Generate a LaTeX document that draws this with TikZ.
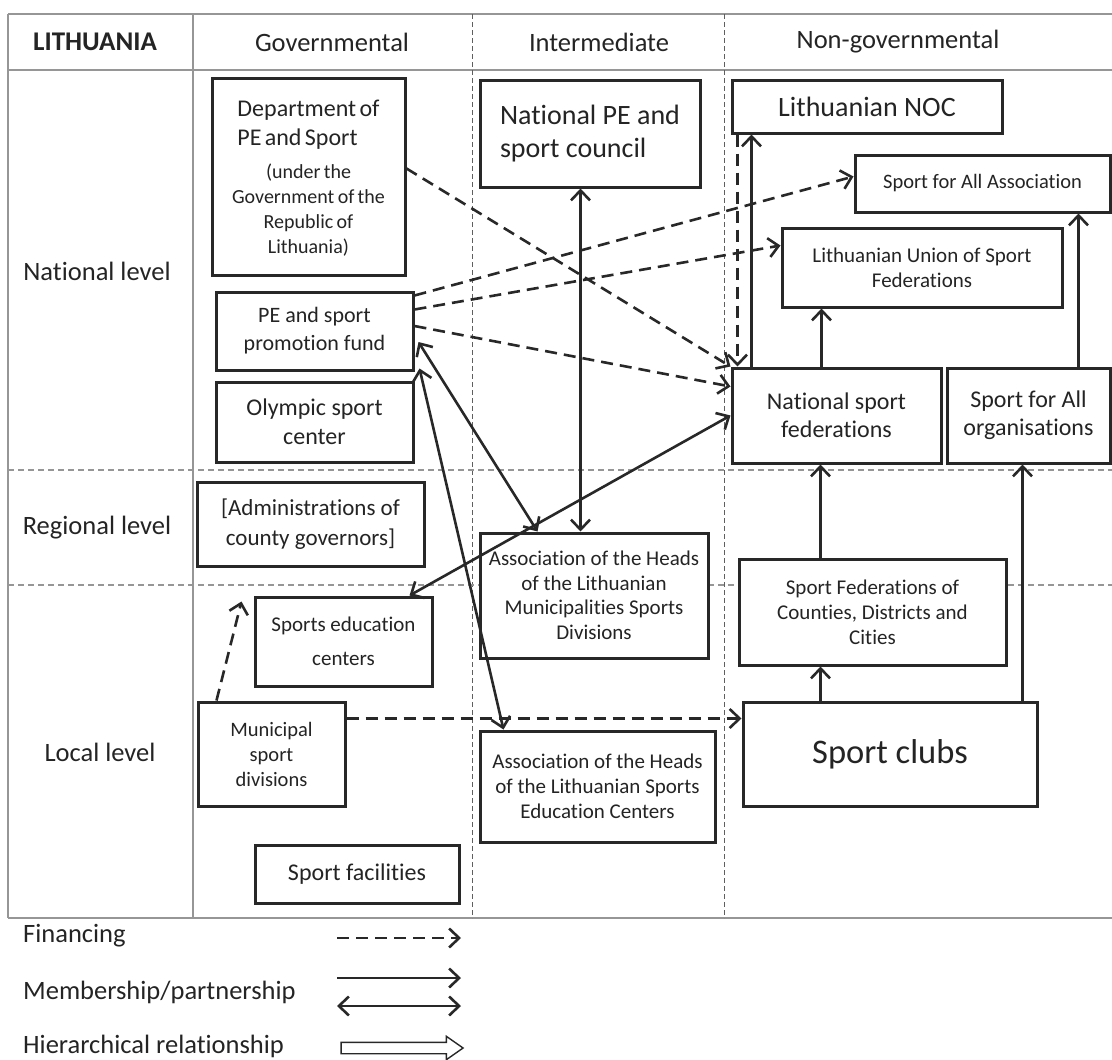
\documentclass[tikz,border=0pt]{standalone}
\usepackage{fontspec}
\setmainfont[Ligatures=NoCommon]{Carlito}
\usepackage{tikz}
\usetikzlibrary{arrows.meta, shapes.arrows}
\definecolor{mydark}{RGB}{40,40,40}
\definecolor{mytext}{RGB}{36,36,36}
\definecolor{mygrid}{RGB}{150,150,150}
\definecolor{mysep}{RGB}{95,95,95}
\tikzset{
  >={Straight Barb[length=10pt,width=19pt]},
  box/.style={rectangle, draw=mydark, fill=white, line width=3pt,
    align=center, inner sep=0pt, text=mytext},
  frameline/.style={color=mygrid, line width=1.4pt},
  rowsep/.style={color=mygrid, line width=1.2pt, dash pattern=on 6pt off 4pt},
  colsep/.style={color=mysep, line width=0.9pt, dash pattern=on 5pt off 3pt},
  lbl/.style={text=mytext, inner sep=0pt, font=\fontsize{26.5}{31}\selectfont},
  fin/.style={->, color=mydark, line width=2.6pt, dash pattern=on 12pt off 7pt},
  mem/.style={->, color=mydark, line width=2.6pt},
  memboth/.style={<->, color=mydark, line width=2.6pt},
  hier/.style={single arrow, draw=mydark, fill=white, line width=1.4pt,
    minimum height=122pt, inner xsep=0pt, inner ysep=5pt,
    single arrow head extend=6pt, single arrow tip angle=70}
}

\begin{document}
\begin{tikzpicture}[x=1pt, y=-1pt]
  \useasboundingbox (0,0) rectangle (1112,1060);

  \draw[frameline] (8,14) -- (1112,14);
  \draw[frameline] (8,70) -- (1112,70);
  \draw[frameline] (8,918) -- (1112,918);
  \draw[frameline] (8,14) -- (8,918);
  \draw[frameline] (193,14) -- (193,918);
  \draw[colsep] (472,14) -- (472,918);
  \draw[colsep] (724,14) -- (724,918);
  \draw[rowsep] (8,470) -- (1112,470);
  \draw[rowsep] (8,585) -- (1112,585);

  \node[lbl, font=\fontsize{27}{31}\selectfont\bfseries] (hcountry) at (95,42) {LITHUANIA};
  \node[lbl] (hgov) at (332,42) {Governmental};
  \node[lbl] (hinter) at (599,42) {Intermediate};
  \node[lbl] (hnongov) at (898,42) {Non-governmental};
  \node[lbl] (rnat) at (97,271) {National level};
  \node[lbl] (rreg) at (97,528) {Regional level};
  \node[lbl] (rloc) at (100,752) {Local level};

  \node[box, minimum width=193pt, minimum height=197pt, text width=185pt] (dept) at (308.5,176.5)
    {\centering{\fontsize{24}{29}\selectfont\begin{tabular}{@{}l@{}}Department of\\PE and Sport\end{tabular}\par}
     \vspace{9pt}{\fontsize{20}{25}\selectfont (under the\\Government of the\\Republic of\\Lithuania)\par}};
  \node[box, font=\fontsize{28}{33}\selectfont, minimum width=220pt, minimum height=107pt, align=left] (council) at (590,133.5) {National PE and\\sport council};
  \node[box, font=\fontsize{28}{33}\selectfont, minimum width=270pt, minimum height=53pt] (noc) at (867,106.5) {Lithuanian NOC};
  \node[box, font=\fontsize{20.5}{25}\selectfont, minimum width=255pt, minimum height=57pt] (sfaassoc) at (982.5,183.5) {Sport for All Association};
  \node[box, font=\fontsize{21}{25}\selectfont, minimum width=280pt, minimum height=79pt] (lusf) at (922,267.5) {Lithuanian Union of Sport\\Federations};
  \node[box, font=\fontsize{22}{28}\selectfont, minimum width=197pt, minimum height=78pt] (fund) at (314.5,331) {PE and sport\\promotion fund};
  \node[box, font=\fontsize{24}{29}\selectfont, minimum width=197pt, minimum height=80pt] (olympic) at (314.5,422) {Olympic sport\\center};
  \node[box, font=\fontsize{24}{28}\selectfont, minimum width=209pt, minimum height=95pt] (nsf) at (836.5,415.5) {National sport\\federations};
  \node[box, font=\fontsize{24}{28}\selectfont, minimum width=163pt, minimum height=95pt] (sfaorg) at (1028.5,415.5) {Sport for All\\organisations};
  \node[box, font=\fontsize{23}{30}\selectfont, minimum width=227pt, minimum height=84pt] (county) at (310.5,524) {[Administrations of\\county governors]};
  \node[box, font=\fontsize{21}{24.5}\selectfont, minimum width=228pt, minimum height=125pt] (munihead) at (594,595.5) {Association of the Heads\\of the Lithuanian\\Municipalities Sports\\Divisions};
  \node[box, font=\fontsize{21}{34}\selectfont, minimum width=177pt, minimum height=89pt] (sec) at (343.5,641.5) {Sports education\\centers};
  \node[box, font=\fontsize{21}{25}\selectfont, minimum width=267pt, minimum height=106pt] (sfcounty) at (872.5,612) {Sport Federations of\\Counties, Districts and\\Cities};
  \node[box, font=\fontsize{20.5}{25}\selectfont, minimum width=147pt, minimum height=104pt] (munic) at (271.5,754) {Municipal\\sport\\divisions};
  \node[box, font=\fontsize{21}{25}\selectfont, minimum width=235pt, minimum height=111pt] (sechead) at (597.5,786.5) {Association of the Heads\\of the Lithuanian Sports\\Education Centers};
  \node[box, font=\fontsize{34.5}{40}\selectfont, minimum width=294pt, minimum height=104pt] (clubs) at (890,754) {Sport clubs};
  \node[box, font=\fontsize{24}{29}\selectfont, minimum width=204pt, minimum height=58pt] (facil) at (357,874) {Sport facilities};

  \draw[fin] ([yshift=8pt]dept.east) -- (nsf.north west);
  \draw[fin] ([yshift=-5pt]fund.north east) -- ([yshift=7pt]sfaassoc.west);
  \draw[fin] ([yshift=-19pt]fund.north east) -- ([yshift=22pt]lusf.west);
  \draw[fin] ([yshift=5pt]fund.east) -- ([yshift=29pt]nsf.west);
  \draw[fin] ([xshift=7pt]noc.south west) -- ([xshift=7pt]nsf.north west);
  \draw[fin] ([yshift=-18pt]munic.north east) -- ([yshift=-18pt]clubs.north west);
  \draw[fin] ([xshift=20pt]munic.north west) -- ([xshift=-12pt,yshift=-6pt]sec.north west);

  \draw[mem] ([xshift=21pt]nsf.north west) -- ([xshift=21pt]noc.south west);
  \draw[mem] ([xshift=91pt]nsf.north west) -- ([xshift=41pt]lusf.south west);
  \draw[mem] ([xshift=133pt]sfaorg.north west) -- ([xshift=225pt]sfaassoc.south west);
  \draw[mem] ([xshift=83pt]sfcounty.north west) -- ([xshift=90pt]nsf.south west);
  \draw[mem] ([xshift=79pt]clubs.north west) -- ([xshift=83pt]sfcounty.south west);
  \draw[mem] ([xshift=281pt]clubs.north west) -- ([xshift=77pt]sfaorg.south west);

  \draw[memboth] ([xshift=102pt]council.south west) -- ([xshift=102pt]munihead.north west);
  \draw[memboth] ([xshift=4pt,yshift=-11pt]fund.east) -- ([xshift=59pt]munihead.north west);
  \draw[memboth] ([xshift=5pt,yshift=3pt]fund.south east) -- ([xshift=25pt]sechead.north west);
  \draw[memboth] ([xshift=-24pt]sec.north east) -- (nsf.west);

  \node[lbl, anchor=west] (legfin) at (23,936) {Financing};
  \node[lbl, anchor=west] (legmem) at (23,992) {Membership/partnership};
  \node[lbl, anchor=west] (leghier) at (23,1046) {Hierarchical relationship};
  \coordinate (fin-a) at (337,938);
  \coordinate (fin-b) at (461,938);
  \coordinate (mem-a) at (337,978);
  \coordinate (mem-b) at (461,978);
  \coordinate (both-a) at (337,1006);
  \coordinate (both-b) at (461,1006);
  \draw[fin] (fin-a) -- (fin-b);
  \draw[mem] (mem-a) -- (mem-b);
  \draw[memboth] (both-a) -- (both-b);
  \node[hier] (hierarrow) at (398,1048) {};
\end{tikzpicture}
\end{document}
